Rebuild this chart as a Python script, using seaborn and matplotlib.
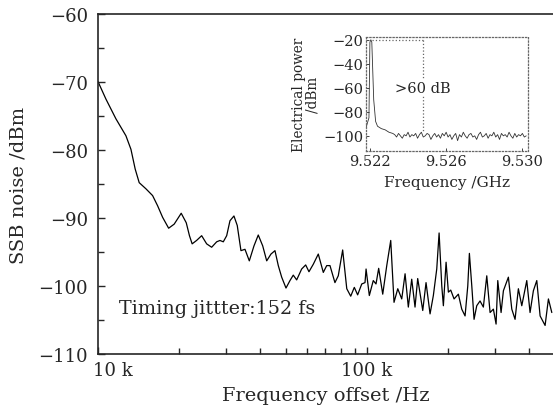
import numpy as np
import pandas as pd
import matplotlib
matplotlib.use("Agg")
import matplotlib.pyplot as plt
import matplotlib.transforms as mtransforms
from matplotlib.ticker import FixedLocator, FixedFormatter, MultipleLocator, NullFormatter
import seaborn as sns

# ---- main SSB noise curve (frequency offset in kHz, noise in dBm) ----
freq_khz = [10.00, 10.71, 11.665, 12.71, 13.27, 13.76, 14.24, 15.08, 15.97, 16.67,
            17.40, 18.32, 19.21, 20.40, 21.30, 21.89, 22.40, 23.27, 24.30, 25.36,
            26.47, 27.63, 28.42, 29.24, 30.10, 30.96, 32.03, 32.95, 34.01, 35.20,
            36.53, 38.02, 39.44, 40.97, 42.39, 43.97, 45.50, 46.81, 48.19, 50.00,
            51.73, 53.21, 54.78, 57.17, 59.17, 60.86, 63.15, 65.91, 68.80, 70.83,
            72.85, 76.0, 78.2, 81.2, 84.1, 87.0, 89.7, 92.3, 95.6, 98.3,
            99.2, 102.0, 105.5, 108.0, 110.5, 114.4, 118.4, 122.5, 126.0, 130.1,
            134.6, 138.5, 142.4, 146.6, 150.8, 154.3, 161.1, 165.7, 171.5, 176.4,
            181.6, 185.3, 189.6, 192.2, 196.7, 200.6, 204.7, 210.6, 218.5, 224.9,
            231.4, 236.8, 240.1, 245.1, 249.9, 255.7, 263.0, 270.6, 278.6, 286.6,
            294.8, 301.7, 306.1, 314.9, 321.2, 335.2, 345.1, 354.9, 365.1, 375.9,
            392.3, 403.5, 415.1, 427.4, 439.7, 458.9, 472.1, 486.0]
ssb_dbm = [-69.9, -72.5, -75.4, -77.9, -79.9, -82.8, -84.8, -85.7, -86.7, -88.2,
           -89.9, -91.5, -90.9, -89.3, -90.7, -92.6, -93.8, -93.3, -92.6, -93.8,
           -94.3, -93.5, -93.3, -93.5, -92.6, -90.4, -89.7, -91.1, -94.8, -94.6,
           -96.3, -94.1, -92.5, -94.1, -96.3, -95.3, -94.8, -97.0, -98.7, -100.3,
           -99.2, -98.4, -99.1, -97.5, -96.9, -97.9, -96.8, -95.3, -98.0, -97.0,
           -97.0, -99.5, -98.5, -94.7, -100.4, -101.5, -100.2, -101.3, -99.7, -99.5,
           -97.5, -101.4, -99.2, -99.7, -97.4, -101.2, -97.0, -93.3, -102.4, -100.4,
           -101.9, -98.2, -103.1, -99.0, -103.1, -98.9, -103.6, -99.5, -104.1, -101.4,
           -97.5, -92.2, -100.0, -102.9, -96.5, -100.9, -100.6, -101.9, -101.2, -103.4,
           -104.4, -100.0, -95.2, -100.0, -104.9, -102.9, -102.2, -103.1, -98.5, -103.9,
           -103.4, -105.6, -99.2, -103.9, -100.7, -98.7, -103.4, -104.9, -100.4, -102.9,
           -99.2, -103.9, -100.7, -99.2, -104.4, -105.8, -101.9, -103.9]

# ---- inset spectrum (GHz, dBm) ----
inset_ghz = [9.5218, 9.52195, 9.5220, 9.52205, 9.5221, 9.5222, 9.5223, 9.5224,
             9.5226, 9.5228, 9.5230, 9.5232]
inset_dbm = [-93, -85, -22, -20, -22, -70, -88, -92, -94, -95, -97, -98]
noise_ghz = [round(9.5233 + 0.0001 * i, 4) for i in range(70)]
noise_dbm = [-99, -101, -98, -100, -102, -99, -100, -97, -101, -99,
             -100, -98, -102, -99, -97, -101, -100, -98, -99, -103,
             -100, -98, -101, -99, -102, -98, -100, -97, -101, -99,
             -103, -100, -98, -104, -99, -101, -97, -100, -102, -99,
             -98, -101, -100, -103, -99, -97, -101, -100, -98, -102,
             -99, -100, -97, -101, -99, -103, -98, -100, -99, -101,
             -97, -100, -102, -98, -101, -99, -100, -98, -101, -100]
inset_ghz = inset_ghz + noise_ghz
inset_dbm = inset_dbm + noise_dbm

sns.set_style("ticks")
plt.rcParams['font.family'] = ['DejaVu Serif']
plt.rcParams['mathtext.fontset'] = 'dejavuserif'

fig = plt.figure(figsize=(5.53, 4.06), dpi=100)
ax = fig.add_axes([0.177, 0.1256, 0.823, 0.8374])

df = pd.DataFrame({"f": np.array(freq_khz) * 1e3, "p": ssb_dbm})
sns.lineplot(data=df, x="f", y="p", ax=ax, color="black", lw=0.9)
ax.set_xscale("log")
ax.set_xlim(1e4, 4.91e5)
ax.set_ylim(-110, -60)
ax.xaxis.set_major_locator(FixedLocator([1e4, 1e5]))
ax.xaxis.set_major_formatter(FixedFormatter(["10 k", "100 k"]))
ax.xaxis.set_minor_locator(FixedLocator([k * 1e4 for k in range(2, 10)] + [k * 1e5 for k in range(2, 5)]))
ax.xaxis.set_minor_formatter(NullFormatter())
ax.yaxis.set_major_locator(MultipleLocator(10))
ax.yaxis.set_minor_locator(MultipleLocator(5))
ax.tick_params(which="both", direction="in", top=False, right=False, labelsize=13, width=1)
ax.tick_params(which="major", length=5)
ax.tick_params(which="minor", length=4)
ax.tick_params(axis="y", pad=7)
ax.tick_params(axis="x", pad=5)
for s in ["left", "bottom", "top"]:
    ax.spines[s].set_linewidth(1.2)
ax.spines["right"].set_visible(False)
ax.set_xlabel("Frequency offset /Hz", fontsize=14, labelpad=5)
ax.set_ylabel("SSB noise /dBm", fontsize=14, labelpad=8)
ax.text(0.046, 0.1206, "Timing jittter:152 fs", transform=ax.transAxes,
        fontsize=13.8, va="baseline", ha="left")

fig.canvas.draw()
first = ax.get_xticklabels()[0]
first.set_horizontalalignment("left")
first.set_transform(first.get_transform() + mtransforms.ScaledTranslation(-5 / 100, 0, fig.dpi_scale_trans))

# inset
axi = fig.add_axes([0.662, 0.626, 0.293, 0.281])
dfi = pd.DataFrame({"f": inset_ghz, "p": inset_dbm})
sns.lineplot(data=dfi, x="f", y="p", ax=axi, color="#333333", lw=0.6)
axi.set_xlim(9.5218, 9.5303)
axi.set_ylim(-112.5, -17.5)
axi.set_xticks([9.522, 9.526, 9.530])
axi.set_xticklabels(["9.522", "9.526", "9.530"])
axi.set_yticks([-20, -40, -60, -80, -100])
axi.tick_params(direction="in", labelsize=10.5, length=2, width=0.6, pad=2)
for s in axi.spines.values():
    s.set_linestyle(":")
    s.set_color("#666666")
    s.set_linewidth(0.9)
axi.plot([9.5221, 9.52476], [-20, -20], ls=":", color="#666666", lw=0.9)
axi.plot([9.52476, 9.52476], [-20, -96], ls=":", color="#666666", lw=0.9)
axi.text(9.5233, -60, ">60 dB", fontsize=10.5, va="center", ha="left",
         bbox=dict(fc="white", ec="none", pad=0.5))
axi.set_xlabel("Frequency /GHz", fontsize=11, labelpad=5)
axi.set_ylabel("Electrical power\n/dBm", fontsize=9.8, labelpad=3, linespacing=0.95)

fig.savefig("out.png", dpi=100)
